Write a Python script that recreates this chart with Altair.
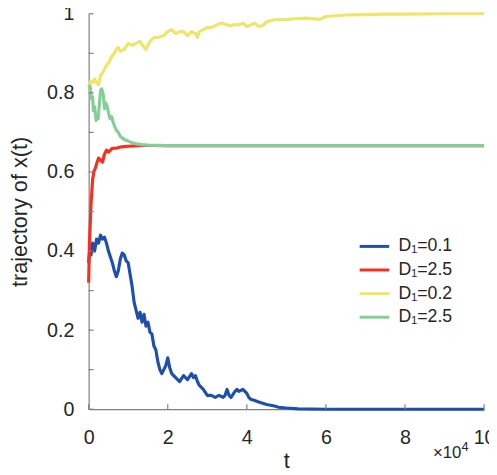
import altair as alt
import pandas as pd

# ---- data (t in units of 1e4) ----
blue_t = [0, 0.03, 0.06, 0.1, 0.15, 0.2, 0.25, 0.3, 0.35, 0.4,
          0.45, 0.5, 0.55, 0.6, 0.65, 0.7, 0.75, 0.8, 0.85, 0.9,
          0.95, 1.0, 1.05, 1.1, 1.15, 1.2, 1.25, 1.3, 1.35, 1.4,
          1.45, 1.5, 1.55, 1.6, 1.65, 1.7, 1.75, 1.8, 1.85, 1.9,
          1.95, 2.0, 2.05, 2.1, 2.15, 2.2, 2.3, 2.4, 2.5, 2.6,
          2.65, 2.7, 2.75, 2.8, 2.9, 3.0, 3.1, 3.2, 3.3, 3.4,
          3.45, 3.5, 3.55, 3.6, 3.7, 3.75, 3.8, 3.9, 4.0, 4.05,
          4.1, 4.2, 4.3, 4.4, 4.5, 4.6, 4.7, 4.8, 5.0, 5.3,
          6.0, 7.0, 8.0, 9.0, 10.0]
blue_y = [0.37, 0.41, 0.39, 0.42, 0.40, 0.43, 0.42, 0.44, 0.43, 0.435,
          0.42, 0.40, 0.385, 0.37, 0.35, 0.335, 0.35, 0.38, 0.395, 0.39,
          0.375, 0.37, 0.34, 0.31, 0.27, 0.25, 0.23, 0.245, 0.22, 0.24,
          0.21, 0.22, 0.195, 0.19, 0.16, 0.15, 0.12, 0.10, 0.09, 0.10,
          0.11, 0.13, 0.105, 0.09, 0.085, 0.08, 0.07, 0.085, 0.075, 0.09,
          0.08, 0.085, 0.07, 0.06, 0.05, 0.035, 0.035, 0.03, 0.035, 0.03,
          0.035, 0.05, 0.035, 0.03, 0.045, 0.05, 0.045, 0.05, 0.04, 0.03,
          0.025, 0.022, 0.018, 0.015, 0.012, 0.01, 0.008, 0.005, 0.003, 0.001,
          0.0, 0.0, 0.0, 0.0, 0.0]

red_t = [0, 0.01, 0.02, 0.04, 0.06, 0.08, 0.1, 0.13, 0.17, 0.2,
         0.25, 0.3, 0.35, 0.4, 0.45, 0.5, 0.6, 0.7, 0.8, 0.9,
         1.0, 1.2, 1.4, 1.6, 2.0, 10.0]
red_y = [0.32, 0.37, 0.42, 0.47, 0.52, 0.55, 0.58, 0.60, 0.61, 0.62,
         0.635, 0.63, 0.625, 0.645, 0.655, 0.65, 0.66, 0.66, 0.663, 0.664,
         0.665, 0.666, 0.667, 0.667, 0.6667, 0.6667]

yellow_t = [0, 0.05, 0.1, 0.15, 0.2, 0.25, 0.3, 0.35, 0.4, 0.45,
            0.5, 0.55, 0.6, 0.65, 0.7, 0.75, 0.8, 0.9, 1.0, 1.1,
            1.2, 1.3, 1.4, 1.45, 1.55, 1.65, 1.75, 1.9, 2.0, 2.1,
            2.2, 2.3, 2.4, 2.5, 2.6, 2.7, 2.75, 2.8, 2.9, 3.0,
            3.1, 3.2, 3.3, 3.4, 3.5, 3.6, 3.7, 3.8, 3.9, 4.0,
            4.1, 4.2, 4.3, 4.4, 4.5, 4.7, 5.0, 5.3, 5.5, 5.7,
            5.85, 6.0, 6.5, 7.0, 7.5, 8.0, 9.0, 10.0]
yellow_y = [0.815, 0.83, 0.825, 0.835, 0.825, 0.82, 0.845, 0.85, 0.86, 0.87,
            0.875, 0.885, 0.895, 0.90, 0.91, 0.915, 0.905, 0.91, 0.925, 0.92,
            0.925, 0.93, 0.915, 0.91, 0.93, 0.94, 0.94, 0.945, 0.955, 0.96,
            0.95, 0.955, 0.955, 0.945, 0.955, 0.95, 0.94, 0.955, 0.96, 0.965,
            0.965, 0.97, 0.975, 0.975, 0.972, 0.97, 0.973, 0.972, 0.976, 0.968,
            0.972, 0.976, 0.968, 0.97, 0.98, 0.985, 0.986, 0.988, 0.989, 0.987,
            0.986, 0.993, 0.997, 0.998, 0.999, 0.999, 1.0, 1.0]

green_t = [0, 0.04, 0.07, 0.1, 0.12, 0.15, 0.19, 0.21, 0.24, 0.27,
           0.3, 0.33, 0.37, 0.4, 0.43, 0.47, 0.5, 0.54, 0.58, 0.62,
           0.66, 0.7, 0.75, 0.8, 0.85, 0.9, 1.0, 1.1, 1.2, 1.35,
           1.5, 2.0, 10.0]
green_y = [0.82, 0.815, 0.785, 0.79, 0.755, 0.765, 0.73, 0.745, 0.735, 0.77,
           0.805, 0.81, 0.795, 0.76, 0.775, 0.765, 0.75, 0.735, 0.74, 0.725,
           0.715, 0.705, 0.70, 0.69, 0.686, 0.682, 0.678, 0.674, 0.671, 0.669,
           0.668, 0.6667, 0.6667]

series_keys = ["a", "b", "c", "d"]
series_labels = ["D\u2081=0.1", "D\u2081=2.5", "D\u2081=0.2", "D\u2081=2.5"]
series_colors = ["#1d4fae", "#f72f1e", "#eee66a", "#84cf95"]

y_tick_values = [0, 0.1, 0.2, 0.3, 0.4, 0.5, 0.6, 0.7, 0.8, 0.9, 1.0]
x_tick_values = [0, 2, 4, 6, 8, 10]

rows = []
for key, ts, ys in zip(series_keys,
                       [blue_t, red_t, yellow_t, green_t],
                       [blue_y, red_y, yellow_y, green_y]):
    for i, (t, y) in enumerate(zip(ts, ys)):
        rows.append({"t": t, "y": y, "s": key, "i": i})
df = pd.DataFrame(rows)

W, H = 402, 402
FONT = "Liberation Sans"
TXT = "#262626"

label_expr = " : ".join(
    [f"datum.value == '{k}' ? '{l}'" for k, l in zip(series_keys[:-1], series_labels[:-1])]
) + f" : '{series_labels[-1]}'"

xscale = alt.Scale(domain=[0, 10], nice=False, zero=False)
yscale = alt.Scale(domain=[0, 1], nice=False, zero=False)

lines = alt.Chart(df).mark_line(strokeWidth=3.2, strokeJoin="round").encode(
    x=alt.X("t:Q", scale=xscale,
            axis=alt.Axis(values=x_tick_values, title="t", ticks=False,
                          labelPadding=19, titlePadding=3, labelFlush=False,
                          labelExpr="toString(datum.value)")),
    y=alt.Y("y:Q", scale=yscale,
            axis=alt.Axis(values=y_tick_values, title="trajectory of x(t)", ticks=False,
                          labelPadding=15, titlePadding=15, labelFlush=False,
                          labelExpr="round(datum.value*10) % 2 == 0 ? toString(round(datum.value*10)/10) : ''")),
    color=alt.Color("s:N",
                    scale=alt.Scale(domain=series_keys, range=series_colors),
                    legend=alt.Legend(title=None, orient="none", legendX=279, legendY=225,
                                      symbolType="M-1.5,0H1.5", symbolSize=400, symbolStrokeWidth=3,
                                      labelFontSize=18, labelFont=FONT, labelColor=TXT,
                                      labelExpr=label_expr, rowPadding=3, labelOffset=13,
                                      padding=0)),
    order="i:Q",
)

ytick_df = pd.DataFrame({"v": y_tick_values})
xtick_df = pd.DataFrame({"v": x_tick_values})

yticks = alt.Chart(ytick_df).mark_rule(color="#7f7f7f", strokeWidth=1.2).encode(
    y=alt.Y("v:Q", scale=yscale), x=alt.value(0), x2=alt.value(5))
xticks = alt.Chart(xtick_df).mark_rule(color="#7f7f7f", strokeWidth=1.2).encode(
    x=alt.X("v:Q", scale=xscale), y=alt.value(H), y2=alt.value(H - 5))

exp_base = alt.Chart(pd.DataFrame({"s": ["\u00d710"]})).mark_text(
    align="left", baseline="alphabetic", fontSize=17, font=FONT, color=TXT
).encode(text="s:N", x=alt.value(350), y=alt.value(452))
exp_sup = alt.Chart(pd.DataFrame({"s": ["4"]})).mark_text(
    align="left", baseline="alphabetic", fontSize=13, font=FONT, color=TXT
).encode(text="s:N", x=alt.value(379), y=alt.value(444))

chart = alt.layer(lines, yticks, xticks, exp_base, exp_sup).properties(
    width=W, height=H,
    autosize=alt.AutoSizeParams(type="none"),
    padding={"left": 82, "top": 2, "right": 5, "bottom": 62},
).configure_view(stroke=None).configure_axis(
    grid=False, domainColor="#7f7f7f", domainWidth=1.2,
    labelFont=FONT, labelFontSize=20, labelColor=TXT,
    titleFont=FONT, titleFontSize=22, titleFontWeight="normal", titleColor=TXT,
)

chart.save("out.html", embed_options={"renderer": "svg", "actions": False})
